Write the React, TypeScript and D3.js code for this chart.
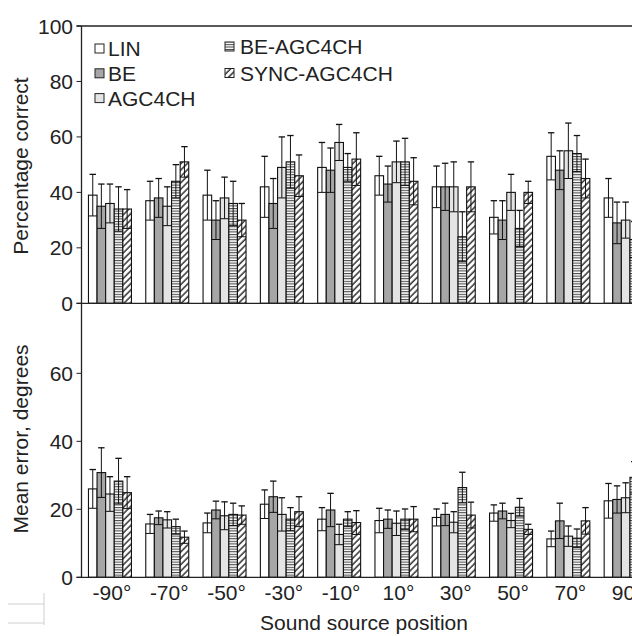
import React from 'react';
import * as d3 from 'd3';

// categories + series
const positions = ['-90°', '-70°', '-50°', '-30°', '-10°', '10°', '30°', '50°', '70°', '90°'];
const series = ['LIN', 'BE', 'AGC4CH', 'BE-AGC4CH', 'SYNC-AGC4CH'];

// percentage correct (mean, sd) per series
const pctLIN = [39, 37, 39, 42, 49, 46, 42, 31, 53, 38];
const pctBE = [35, 38, 30, 36, 48, 43, 42, 30, 48, 29];
const pctAGC = [36, 35, 38, 49, 58, 51, 42, 40, 55, 30];
const pctBEAGC = [34, 44, 36, 51, 49, 51, 24, 27, 54, 23];
const pctSYNC = [34, 51, 30, 46, 52, 44, 42, 40, 45, 30];
const pctSdLIN = [7.5, 7, 9, 11, 9, 7, 7.5, 6, 8.5, 7];
const pctSdBE = [8, 7, 7, 9, 8, 6.5, 8.5, 7, 7, 7.5];
const pctSdAGC = [7, 7, 7.5, 11, 6.5, 7.5, 9, 6.5, 10, 6.5];
const pctSdBEAGC = [8, 6, 8, 9.5, 5, 8.5, 9, 6.5, 6.5, 6.5];
const pctSdSYNC = [7, 5.5, 6, 7.5, 9.5, 8.5, 9, 4, 7, 6];

// mean error (degrees)
const errLIN = [26, 15.7, 16, 21.5, 17.1, 16.7, 17.6, 18.9, 11.3, 22.5];
const errBE = [30.8, 17.5, 19.8, 23.7, 19.8, 17.1, 18.5, 19.5, 16.6, 22.9];
const errAGC = [24.5, 16.9, 18.1, 18.5, 12.6, 15.9, 16.2, 16.7, 12.1, 23.4];
const errBEAGC = [28.3, 14.9, 18.5, 17.1, 17.1, 17.1, 26.4, 20.6, 11.5, 29.4];
const errSYNC = [24.9, 11.8, 18.3, 19.3, 16.1, 17.1, 18.3, 14.1, 16.6, 28];
const errSdLIN = [5.7, 2.8, 2.9, 4.2, 3.4, 3.6, 2.5, 2.4, 2.3, 5.1];
const errSdBE = [7.3, 2, 2.6, 4.6, 4.9, 2.7, 3.3, 2.3, 5.2, 4];
const errSdAGC = [5.1, 2.4, 4.1, 4.9, 3, 3.6, 3.1, 2.1, 3, 4.4];
const errSdBEAGC = [6.7, 2.2, 3.3, 3.4, 2.2, 3, 4.5, 2.6, 2.7, 4.6];
const errSdSYNC = [4.7, 1.8, 2.7, 4.4, 3.5, 3.7, 3.8, 1.5, 3.9, 4.5];

const fills = ['#ffffff', '#a6a6a6', '#e4e4e4', 'url(#hlines)', 'url(#diag)'];
const font = 'Liberation Sans, Arial, sans-serif';

const pctData = [pctLIN, pctBE, pctAGC, pctBEAGC, pctSYNC];
const pctSd = [pctSdLIN, pctSdBE, pctSdAGC, pctSdBEAGC, pctSdSYNC];
const errData = [errLIN, errBE, errAGC, errBEAGC, errSYNC];
const errSd = [errSdLIN, errSdBE, errSdAGC, errSdBEAGC, errSdSYNC];

const W = 632;
const H = 636;
const axisX = 81.5;
const fs = 21;

const App = () => {
  const x = d3.scaleBand().domain(positions).range([81.3, 654.3]).paddingInner(0.25).paddingOuter(0.125);
  const xs = d3.scaleBand().domain(series).range([0, x.bandwidth()]);

  const yTop = d3.scaleLinear().domain([0, 100]).range([303.3, 26]);
  const yBot = d3.scaleLinear().domain([0, 80.6]).range([577.3, 303.3]);

  const bars = (data, sd, y, key) =>
    positions.map((p, i) => (
      <g key={key + p} transform={`translate(${x(p)},0)`}>
        {series.map((s, j) => {
          const v = data[j][i];
          const e = sd[j][i];
          const bx = xs(s);
          const bw = xs.bandwidth();
          const cx = bx + bw / 2;
          return (
            <g key={s}>
              <rect x={bx} y={y(v)} width={bw} height={y(0) - y(v)} fill={fills[j]} stroke="#111" strokeWidth={1.1} />
              <line x1={cx} x2={cx} y1={y(v - e)} y2={y(v + e)} stroke="#111" strokeWidth={1} />
              <line x1={cx - 3.2} x2={cx + 3.2} y1={y(v + e)} y2={y(v + e)} stroke="#111" strokeWidth={1.3} />
              <line x1={bx} x2={bx + bw} y1={y(v - e)} y2={y(v - e)} stroke="#111" strokeWidth={1} />
            </g>
          );
        })}
      </g>
    ));

  const yTicks = (y, ticks, key) =>
    ticks.map((t) => (
      <g key={key + t}>
        <line x1={axisX - 5} x2={axisX} y1={y(t)} y2={y(t)} stroke="#222" />
        <text x={axisX - 8.5} y={y(t)} dy="0.36em" textAnchor="end" fontSize={fs} fill="#222">
          {t}
        </text>
      </g>
    ));

  const legendLeft = [0, 1, 2];
  const legendRight = [3, 4];

  return (
    <svg width={W} height={H} style={{ position: 'absolute', left: 0, top: 0, background: '#fff' }} fontFamily={font}>
      <defs>
        <pattern id="hlines" width="4" height="2.6" patternUnits="userSpaceOnUse">
          <rect width="4" height="2.6" fill="#fff" />
          <line x1="0" x2="4" y1="0.6" y2="0.6" stroke="#222" strokeWidth={0.9} />
        </pattern>
        <pattern id="diag" width="4.5" height="4.5" patternUnits="userSpaceOnUse" patternTransform="rotate(-45)">
          <rect width="4.5" height="4.5" fill="#fff" />
          <line x1="0" x2="4.5" y1="1" y2="1" stroke="#222" strokeWidth={1.4} />
        </pattern>
      </defs>

      {bars(pctData, pctSd, yTop, 'top')}
      {bars(errData, errSd, yBot, 'bot')}

      {/* frame / axes */}
      <line x1={axisX - 5} x2={W} y1={26} y2={26} stroke="#222" strokeWidth={1.3} />
      <line x1={axisX - 5} x2={W} y1={303.3} y2={303.3} stroke="#222" strokeWidth={1.3} />
      <line x1={axisX - 5} x2={W} y1={577.3} y2={577.3} stroke="#222" strokeWidth={1.3} />
      <line x1={axisX} x2={axisX} y1={26} y2={577.3} stroke="#222" strokeWidth={1.3} />

      {yTicks(yTop, [0, 20, 40, 60, 80, 100], 'yt')}
      {yTicks(yBot, [0, 20, 40, 60], 'yb')}

      {positions.map((p) => (
        <text key={p} x={x(p) + x.bandwidth() / 2 + 2} y={600} textAnchor="middle" fontSize={fs} fill="#222">
          {p}
        </text>
      ))}

      <text transform={`translate(28,166) rotate(-90)`} textAnchor="middle" fontSize={fs} fill="#222">
        Percentage correct
      </text>
      <text transform={`translate(28,439) rotate(-90)`} textAnchor="middle" fontSize={fs} fill="#222">
        Mean error, degrees
      </text>
      <text x={364} y={630} textAnchor="middle" fontSize={fs} fill="#222">
        Sound source position
      </text>

      {/* legend */}
      {legendLeft.map((j, k) => (
        <g key={series[j]} transform={`translate(95,${48.5 + k * 24.8})`}>
          <rect x={0} y={-4.5} width={9} height={9} fill={fills[j]} stroke="#222" strokeWidth={1} />
          <text x={13} y={0} dy="0.36em" fontSize={fs} fill="#222">
            {series[j]}
          </text>
        </g>
      ))}
      {legendRight.map((j, k) => (
        <g key={series[j]} transform={`translate(225,${46.5 + k * 26.5})`}>
          <rect x={0} y={-4.5} width={9} height={9} fill={fills[j]} stroke="#222" strokeWidth={1} />
          <text x={15} y={0} dy="0.36em" fontSize={fs} fill="#222">
            {series[j]}
          </text>
        </g>
      ))}

      {/* faint scan artifact, bottom left */}
      <g stroke="#cfcfcf" strokeWidth={1}>
        <line x1={8} x2={44} y1={604} y2={604} />
        <line x1={8} x2={44} y1={623} y2={623} />
        <line x1={44} x2={44} y1={593} y2={625} />
      </g>
    </svg>
  );
};

export default App;
